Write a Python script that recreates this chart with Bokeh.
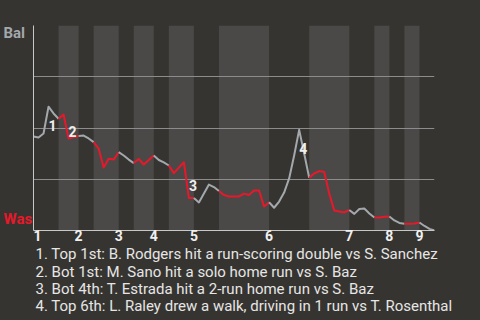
from bokeh.plotting import figure
from bokeh.layouts import row
from bokeh.models import Range1d, FixedTicker, ColumnDataSource, Title
from bokeh.embed import file_html
from bokeh.resources import INLINE
from bokeh.core.properties import value

# ---------------- data ----------------
teams = ["Bal", "Was"]                      # top of chart = Bal, bottom = Was
half_inning_plays = [5, 4, 3, 5, 3, 4, 3, 5, 5, 10, 8, 8, 5, 3, 3, 3, 3]
wp_bal = [0.459, 0.454, 0.473, 0.604, 0.571, 0.545, 0.566, 0.449, 0.456, 0.461,
          0.463, 0.449, 0.431, 0.399, 0.307, 0.350, 0.346, 0.382, 0.366, 0.346,
          0.329, 0.349, 0.322, 0.344, 0.366, 0.344, 0.332, 0.317, 0.280, 0.307,
          0.333, 0.159, 0.159, 0.137, 0.180, 0.224, 0.212, 0.193, 0.173, 0.166,
          0.166, 0.166, 0.180, 0.173, 0.195, 0.195, 0.117, 0.138, 0.111, 0.141,
          0.185, 0.254, 0.366, 0.491, 0.376, 0.257, 0.278, 0.290, 0.285, 0.180,
          0.098, 0.093, 0.088, 0.100, 0.081, 0.105, 0.107, 0.083, 0.063, 0.063,
          0.067, 0.068, 0.049, 0.037, 0.033, 0.033, 0.034, 0.039, 0.022, 0.008,
          0.000]
event_plays = [3, 7, 31, 53]
event_notes = [
    "1. Top 1st: B. Rodgers hit a run-scoring double vs S. Sanchez",
    "2. Bot 1st: M. Sano hit a solo home run vs S. Baz",
    "3. Bot 4th: T. Estrada hit a 2-run home run vs S. Baz",
    "4. Top 6th: L. Raley drew a walk, driving in 1 run vs T. Rosenthal",
]

# ---------------- styles ----------------
BG = "#363430"
BAND = "#4b4947"
GRAY = "#a3a8ad"
RED = "#e8182b"
GRID = "#8c8c8c"
AXIS = "#c8c8c8"
WHITE = "#f0f0f0"
FONT = "Roboto"
W, H = 480, 320
LEFT_W, TOP, BOTTOM = 33, 25, 90
FRAME_H = H - TOP - BOTTOM

starts = [0]
for n in half_inning_plays:
    starts.append(starts[-1] + n)
n_plays = starts[-1]

# ---------- left strip with team names (frame aligned with main chart) ----------
side = figure(width=LEFT_W, height=H, output_backend="svg", toolbar_location=None,
              x_range=Range1d(0, LEFT_W), y_range=Range1d(0, 1),
              x_axis_location=None, y_axis_location=None, min_border=0,
              min_border_top=TOP, min_border_bottom=BOTTOM)
side.background_fill_color = BG
side.border_fill_color = BG
side.outline_line_color = None
side.grid.visible = False
side.text(x=[3], y=[1 + 1.5 / FRAME_H], text=[teams[0]], text_color=GRAY,
          text_baseline="top", text_font=value(FONT),
          text_font_style="bold", text_font_size="15px")
side.text(x=[3], y=[11.5 / FRAME_H], text=[teams[1]], text_color=RED,
          text_baseline="alphabetic", text_font=value(FONT),
          text_font_style="bold", text_font_size="15px")

# ---------- main chart ----------
p = figure(width=W - LEFT_W, height=H, output_backend="svg", toolbar_location=None,
           x_range=Range1d(0, n_plays), y_range=Range1d(0, 1),
           min_border_left=0, min_border_right=46, min_border_top=TOP,
           min_border_bottom=BOTTOM)
p.background_fill_color = BG
p.border_fill_color = BG
p.outline_line_color = None

lefts = [starts[i] for i in range(1, len(half_inning_plays), 2)]
rights = [starts[i + 1] for i in range(1, len(half_inning_plays), 2)]
p.quad(left=lefts, right=rights, bottom=0, top=1, fill_color=BAND,
       line_color=None, level="image")

p.xgrid.visible = False
p.ygrid.ticker = FixedTicker(ticks=[0, 0.25, 0.5, 0.75, 1.0])
p.ygrid.grid_line_color = GRID
p.ygrid.grid_line_width = 1

xs, ys, cols = [], [], []
for i in range(len(half_inning_plays)):
    a, b = starts[i], starts[i + 1]
    xs.append(list(range(a, b + 1)))
    ys.append(wp_bal[a:b + 1])
    cols.append(GRAY if i % 2 == 0 else RED)
p.multi_line(xs=xs, ys=ys, line_color=cols, line_width=2, line_join="round")

ev_src = ColumnDataSource(dict(
    x=event_plays,
    y=[(wp_bal[k - 1] + wp_bal[k]) / 2 for k in event_plays],
    t=[str(i + 1) for i in range(len(event_plays))]))
p.text(x="x", y="y", text="t", source=ev_src, text_align="left",
       text_baseline="top", text_font=value(FONT), text_font_style="bold",
       text_font_size="14px", text_color=WHITE)

inning_starts = [starts[i] for i in range(0, len(half_inning_plays), 2)]
p.xaxis.ticker = FixedTicker(ticks=inning_starts)
p.xaxis.major_label_overrides = {s: str(i + 1) for i, s in enumerate(inning_starts)}
p.xaxis.major_label_text_align = "left"
p.xaxis.major_label_text_font = FONT
p.xaxis.major_label_text_font_style = "bold"
p.xaxis.major_label_text_font_size = "14px"
p.xaxis.major_label_text_color = WHITE
p.xaxis.major_label_standoff = -1
p.xaxis.major_tick_in = 0
p.xaxis.major_tick_out = 0
p.xaxis.minor_tick_line_color = None
p.xaxis.axis_line_color = AXIS

p.yaxis.ticker = FixedTicker(ticks=[])
p.yaxis.major_tick_in = 0
p.yaxis.major_tick_out = 0
p.yaxis.minor_tick_line_color = None
p.yaxis.axis_line_color = AXIS

for i, note in enumerate(event_notes):
    p.add_layout(Title(text=note, align="left", offset=2, text_font=FONT,
                       text_font_size="15px", text_font_style="normal",
                       text_color="#e6e6e6", standoff=-1 if i == 0 else -3),
                 "below")

page = row(side, p, spacing=0)
page.styles = {"background-color": BG}
open("out.html", "w").write(file_html(page, INLINE))
